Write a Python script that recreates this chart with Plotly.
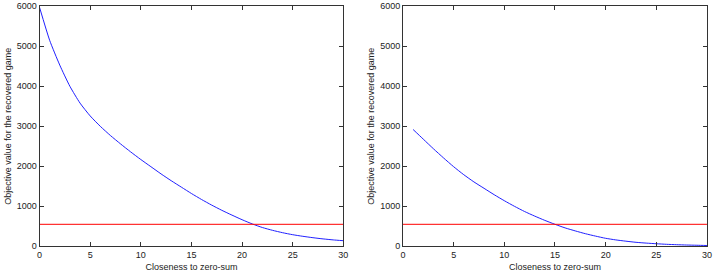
import plotly.graph_objects as go

# Left panel
x_left = list(range(0, 31))
y_left = [5975, 5150, 4530, 4000, 3580, 3260, 3000, 2770, 2560, 2360,
          2170, 1990, 1810, 1640, 1480, 1320, 1170, 1030, 900, 780,
          665, 560, 470, 400, 340, 290, 250, 215, 185, 160, 140]

# Right panel
x_right = list(range(1, 31))
y_right = [2920, 2680, 2440, 2210, 1990, 1790, 1610, 1450, 1290, 1140,
           1000, 870, 755, 648, 550, 460, 385, 315, 255, 200,
           160, 128, 100, 80, 64, 50, 40, 32, 26, 20]

threshold = 550
x_range = [0, 30]
y_range = [0, 6000]
x_ticks = [0, 5, 10, 15, 20, 25, 30]
y_ticks = [0, 1000, 2000, 3000, 4000, 5000, 6000]

x_title = "Closeness to zero-sum"
y_title = "Objective value for the recovered game"

fig = go.Figure()
fig.add_trace(go.Scatter(x=x_left, y=y_left, mode="lines", line=dict(color="#2020ff", width=1, shape="spline", smoothing=0.6),
                         xaxis="x", yaxis="y", showlegend=False))
fig.add_trace(go.Scatter(x=x_range, y=[threshold, threshold], mode="lines",
                         line=dict(color="#ff0000", width=1), xaxis="x", yaxis="y", showlegend=False))
fig.add_trace(go.Scatter(x=x_right, y=y_right, mode="lines", line=dict(color="#2020ff", width=1, shape="spline", smoothing=0.6),
                         xaxis="x2", yaxis="y2", showlegend=False))
fig.add_trace(go.Scatter(x=x_range, y=[threshold, threshold], mode="lines",
                         line=dict(color="#ff0000", width=1), xaxis="x2", yaxis="y2", showlegend=False))

font = dict(family="Liberation Sans, Arial, Helvetica, sans-serif", size=9, color="#222222")
axis_common = dict(showgrid=False, zeroline=False, showline=True, linecolor="#333333", linewidth=1,
                   mirror="ticks", ticks="inside", ticklen=4, tickcolor="#333333",
                   tickfont=font, automargin=False)

fig.update_layout(
    width=716, height=272,
    margin=dict(l=0, r=0, t=0, b=0),
    paper_bgcolor="white", plot_bgcolor="white",
    font=font,
    xaxis=dict(domain=[0.0552, 0.4795], range=x_range, tickvals=x_ticks, anchor="y",
               title=dict(text=x_title, font=font, standoff=4), **axis_common),
    yaxis=dict(domain=[0.0945, 0.9768], range=y_range, tickvals=y_ticks, anchor="x",
               title=dict(text=y_title, font=font, standoff=3), **axis_common),
    xaxis2=dict(domain=[0.5628, 0.9874], range=x_range, tickvals=x_ticks, anchor="y2",
                title=dict(text=x_title, font=font, standoff=4), **axis_common),
    yaxis2=dict(domain=[0.0945, 0.9768], range=y_range, tickvals=y_ticks, anchor="x2",
                title=dict(text=y_title, font=font, standoff=3), **axis_common),
)

fig.write_html("out.html")
